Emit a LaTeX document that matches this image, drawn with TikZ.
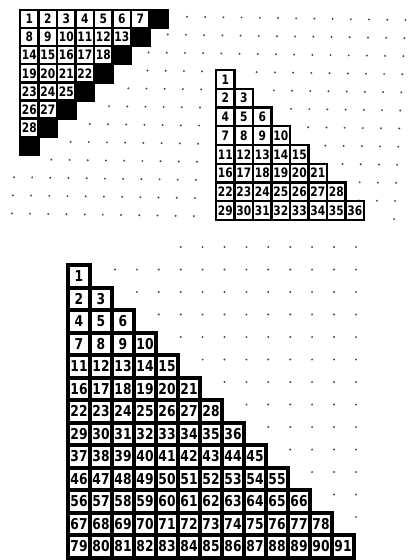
\documentclass[tikz,border=0pt]{standalone}
\usepackage{fontspec}
\newfontfamily\handfont[FakeStretch=0.82]{DejaVu Sans}
\begin{document}
\begin{tikzpicture}[x=1pt,y=-1pt,
  boxA/.style={draw=black, line width=2.3pt, minimum width=18.5pt, minimum height=18.1pt, inner sep=0pt, font=\handfont\bfseries\fontsize{13}{13}\selectfont},
  blackA/.style={draw=black, fill=black, line width=2.3pt, minimum width=18.5pt, minimum height=18.1pt, inner sep=0pt},
  boxB/.style={draw=black, line width=2.3pt, minimum width=18.5pt, minimum height=18.75pt, inner sep=0pt, font=\handfont\bfseries\fontsize{13}{13}\selectfont},
  boxC/.style={draw=black, line width=4pt, minimum width=22pt, minimum height=22.5pt, inner sep=0pt, font=\handfont\bfseries\fontsize{15}{15}\selectfont},
  griddot/.style={fill=black!70}
]
\useasboundingbox (0,0) rectangle (411,560);
% upper dot grid
\foreach \j in {0,...,11}{
  \foreach \k in {0,...,21}{
    \pgfmathsetmacro\ptx{23.2+18.2*\k-1.03*\j}
    \pgfmathsetmacro\pty{14.3+0.27*\k+18.1*\j}
    \pgfmathtruncatemacro\rowa{max(0,floor((\pty-16)/18.1))}
    \pgfmathsetmacro\xea{(\rowa<8)?(28+18.5*(8-\rowa)):0}
    \pgfmathtruncatemacro\rowb{max(0,floor((\pty-70)/18.75))}
    \pgfmathtruncatemacro\inB{(\pty>62)*(\ptx>204)*(\ptx<228+18.5*(\rowb+1))}
    \pgfmathtruncatemacro\okdot{(\ptx>\xea)*(1-\inB)}
    \ifnum\okdot=1 \fill[griddot] (\ptx,\pty) circle (1.1pt);\fi
  }
}
% lower dot grid
\foreach \j in {0,...,12}{
  \foreach \k in {0,...,11}{
    \pgfmathsetmacro\ptx{115+21.9*\k}
    \pgfmathsetmacro\pty{247+22.5*\j}
    \pgfmathtruncatemacro\rowc{max(0,floor((\pty-265)/22.5))}
    \pgfmathsetmacro\xec{(\j==0)?178:(80+22*(\rowc+1))}
    \pgfmathtruncatemacro\okdot{\ptx>\xec}
    \ifnum\okdot=1 \fill[griddot] (\ptx,\pty) circle (1.1pt);\fi
  }
}
% figure 1
\foreach \r in {0,...,6}{
  \pgfmathtruncatemacro\nc{6-\r}
  \pgfmathtruncatemacro\fst{1+7*\r-\r*(\r-1)/2}
  \foreach \c in {0,...,\nc}{
    \pgfmathtruncatemacro\num{\fst+\c}
    \node[boxA] (a\num) at ({20+18.5*(\c+0.5)},{10+18.1*(\r+0.5)}) {\num};
  }
}
\foreach \r in {0,...,7}{
  \node[blackA] (ab\r) at ({20+18.5*(7-\r+0.5)},{10+18.1*(\r+0.5)}) {};
}
% figure 2
\foreach \r in {0,...,7}{
  \pgfmathtruncatemacro\fst{\r*(\r+1)/2+1}
  \foreach \c in {0,...,\r}{
    \pgfmathtruncatemacro\num{\fst+\c}
    \node[boxB] (b\num) at ({216+18.5*(\c+0.5)},{70+18.75*(\r+0.5)}) {\num};
  }
}
% figure 3
\foreach \r in {0,...,12}{
  \pgfmathtruncatemacro\fst{\r*(\r+1)/2+1}
  \foreach \c in {0,...,\r}{
    \pgfmathtruncatemacro\num{\fst+\c}
    \node[boxC] (c\num) at ({68+22*(\c+0.5)},{265+22.5*(\r+0.5)}) {\num};
  }
}
\end{tikzpicture}
\end{document}
